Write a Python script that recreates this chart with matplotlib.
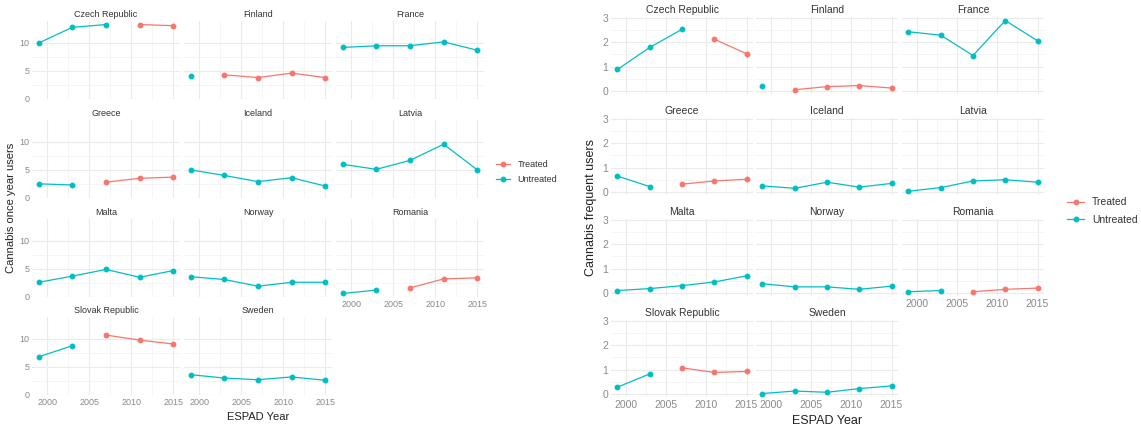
import matplotlib
matplotlib.use("Agg")
import matplotlib.pyplot as plt
from matplotlib.lines import Line2D

plt.rcParams['font.family'] = ['Liberation Sans', 'DejaVu Sans']

# ESPAD survey waves
years = [1999, 2003, 2007, 2011, 2015]

countries = ["Czech Republic", "Finland", "France", "Greece", "Iceland", "Latvia",
             "Malta", "Norway", "Romania", "Slovak Republic", "Sweden"]

# first year counted as treated (None = never treated)
treat_start = [2011, 2003, None, 2007, None, None, None, None, 2007, 2007, None]

once_year = [
    [10.0, 12.8, 13.3, 13.3, 13.1],   # Czech Republic
    [4.1, 4.3, 3.8, 4.6, 3.8],        # Finland
    [9.2, 9.5, 9.5, 10.2, 8.7],       # France
    [2.5, 2.3, 2.8, 3.5, 3.7],        # Greece
    [5.0, 4.0, 2.9, 3.6, 2.1],        # Iceland
    [6.0, 5.1, 6.7, 9.6, 5.0],        # Latvia
    [2.6, 3.7, 4.9, 3.5, 4.7],        # Malta
    [3.6, 3.1, 1.9, 2.6, 2.6],        # Norway
    [0.6, 1.2, 1.6, 3.2, 3.4],        # Romania
    [6.8, 8.8, 10.7, 9.8, 9.1],       # Slovak Republic
    [3.6, 3.0, 2.7, 3.2, 2.6],        # Sweden
]

frequent = [
    [0.88, 1.78, 2.52, 2.12, 1.52],   # Czech Republic
    [0.22, 0.05, 0.18, 0.22, 0.12],   # Finland
    [2.42, 2.28, 1.45, 2.88, 2.05],   # France
    [0.65, 0.22, 0.32, 0.45, 0.52],   # Greece
    [0.25, 0.15, 0.40, 0.20, 0.35],   # Iceland
    [0.03, 0.18, 0.45, 0.50, 0.40],   # Latvia
    [0.10, 0.18, 0.30, 0.45, 0.70],   # Malta
    [0.38, 0.25, 0.25, 0.15, 0.28],   # Norway
    [0.05, 0.10, 0.05, 0.15, 0.20],   # Romania
    [0.28, 0.82, 1.07, 0.88, 0.92],   # Slovak Republic
    [0.02, 0.12, 0.07, 0.22, 0.33],   # Sweden
]

TREATED = "#F8766D"
UNTREATED = "#00BFC4"

W, H = 1141, 426
fig = plt.figure(figsize=(W / 100, H / 100), dpi=100)


def px_axes(x0, top, w, h):
    return fig.add_axes([x0 / W, 1 - (top + h) / H, w / W, h / H])


def facet_block(values, col_x, row_top, pw, ph, yticks, fs, ylabel, ylab_x, xlab_y, leg_xy):
    lo = min(min(v) for v in values)
    hi = max(max(v) for v in values)
    pad = (hi - lo) * 0.05
    ylim = (lo - pad, hi + pad)
    xlim = (1999 - 0.8, 2015 + 0.8)
    for k, name in enumerate(countries):
        r, c = divmod(k, 3)
        ax = px_axes(col_x[c], row_top[r], pw, ph)
        ax.set_xlim(*xlim)
        ax.set_ylim(*ylim)
        for s in ax.spines.values():
            s.set_visible(False)
        ax.set_xticks([2000, 2005, 2010, 2015])
        ax.set_xticks([2002.5, 2007.5, 2012.5], minor=True)
        ax.set_yticks(yticks)
        ax.set_yticks([t + (yticks[1] - yticks[0]) / 2 for t in yticks[:-1]], minor=True)
        ax.grid(True, which="major", color="#EBEBEB", linewidth=0.8)
        ax.grid(True, which="minor", color="#F2F2F2", linewidth=0.5)
        ax.set_axisbelow(True)
        ax.tick_params(which="both", length=0, labelsize=fs, labelcolor="#8A8A8A", pad=2)
        if c != 0:
            ax.set_yticklabels([])
        # bottom row of each column gets the year labels
        if k + 3 < len(countries):
            ax.set_xticklabels([])
        ax.set_title(name, fontsize=fs, color="#333333", pad=3)

        ts = treat_start[k]
        vals = values[k]
        un_x = [y for y in years if ts is None or y < ts]
        un_y = [v for y, v in zip(years, vals) if ts is None or y < ts]
        tr_x = [y for y in years if ts is not None and y >= ts]
        tr_y = [v for y, v in zip(years, vals) if ts is not None and y >= ts]
        if un_x:
            ax.plot(un_x, un_y, color=UNTREATED, lw=0.9, marker="o", ms=3.2)
        if tr_x:
            ax.plot(tr_x, tr_y, color=TREATED, lw=0.9, marker="o", ms=3.2)

    mid_y = (row_top[0] + row_top[3] + ph) / 2
    fig.text(ylab_x / W, 1 - mid_y / H, ylabel, rotation=90, ha="center", va="center",
             fontsize=fs + 1.5, color="#222222")
    mid_x = (col_x[0] + col_x[2] + pw) / 2
    fig.text(mid_x / W, 1 - xlab_y / H, "ESPAD Year", ha="center", va="center",
             fontsize=fs + 1.5, color="#222222")

    handles = [Line2D([], [], color=TREATED, lw=0.9, marker="o", ms=3.2),
               Line2D([], [], color=UNTREATED, lw=0.9, marker="o", ms=3.2)]
    fig.legend(handles, ["Treated", "Untreated"], loc="center left",
               bbox_to_anchor=(leg_xy[0] / W, 1 - leg_xy[1] / H), frameon=False,
               fontsize=fs, handlelength=1.6, labelspacing=0.7, borderaxespad=0,
               labelcolor="#333333")


# left: once a year users
facet_block(once_year, col_x=[32, 184, 336], row_top=[21, 120, 219, 317], pw=148, ph=78,
            yticks=[0, 5, 10], fs=6.5, ylabel="Cannabis once year users",
            ylab_x=11, xlab_y=417, leg_xy=(492, 172))

# right: frequent users
facet_block(frequent, col_x=[611, 756, 902], row_top=[17, 118, 219, 320], pw=142, ph=77,
            yticks=[0, 1, 2, 3], fs=7.5, ylabel="Cannabis frequent users",
            ylab_x=591, xlab_y=421, leg_xy=(1063, 211))

fig.savefig("out.png", dpi=100, facecolor="white")
